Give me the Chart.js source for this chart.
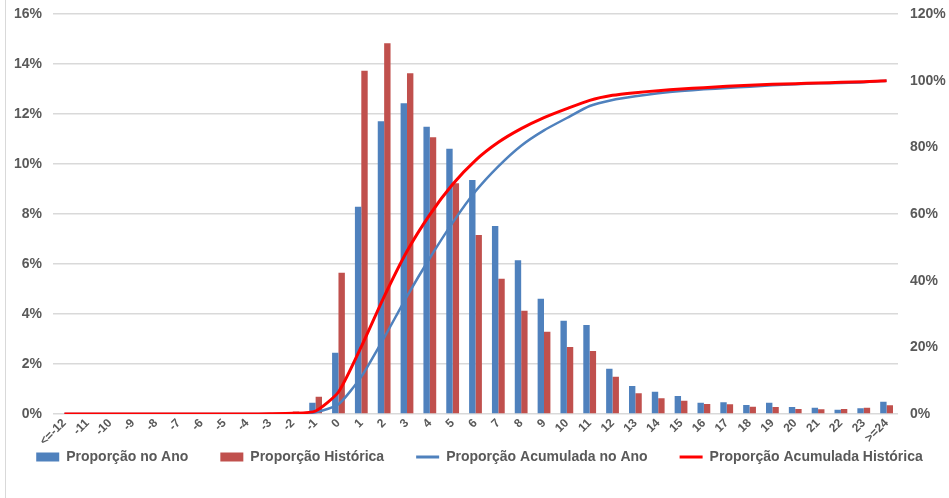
<!DOCTYPE html>
<html>
<head>
<meta charset="utf-8">
<script src="https://cdn.jsdelivr.net/npm/chart.js@4/dist/chart.umd.min.js"></script>
<style>
    body { margin: 0; background: #fff; }
    #wrap { position: relative; width: 949px; height: 498px; }
    #frame { position: absolute; left: 5px; top: 0; width: 1px; height: 498px; background: #d9d9d9; }
</style>
</head>
<body>
<div id="wrap">
    <div id="frame"></div>
    <canvas id="chart"></canvas>
</div>
<script>
const labels = ['<=-12', '-11', '-10', '-9', '-8', '-7', '-6', '-5', '-4', '-3', '-2', '-1', '0', '1', '2', '3', '4', '5', '6', '7', '8', '9', '10', '11', '12', '13', '14', '15', '16', '17', '18', '19', '20', '21', '22', '23', '>=24'];

// percent values
const propAno = [0, 0, 0, 0, 0, 0, 0, 0, 0, 0, 0.02, 0.45, 2.45, 8.29, 11.71, 12.43, 11.49, 10.61, 9.36, 7.52, 6.15, 4.61, 3.73, 3.56, 1.81, 1.12, 0.89, 0.72, 0.45, 0.47, 0.36, 0.45, 0.28, 0.25, 0.17, 0.23, 0.49];
const propHist = [0, 0, 0, 0, 0, 0, 0, 0, 0.01, 0.02, 0.1, 0.69, 5.65, 13.73, 14.83, 13.63, 11.07, 9.23, 7.16, 5.41, 4.13, 3.29, 2.68, 2.52, 1.49, 0.83, 0.63, 0.53, 0.4, 0.39, 0.29, 0.28, 0.2, 0.19, 0.2, 0.25, 0.35];
const acumAno = [0, 0, 0, 0, 0, 0, 0, 0, 0, 0, 0.05, 0.5, 2.9, 11.2, 22.9, 35.3, 46.8, 57.4, 66.8, 74.3, 80.5, 85.1, 88.8, 92.4, 94.2, 95.3, 96.2, 96.9, 97.4, 97.8, 98.2, 98.6, 98.9, 99.2, 99.3, 99.5, 100];
const acumHist = [0, 0, 0, 0, 0, 0, 0, 0, 0, 0.05, 0.2, 0.9, 6.6, 20.2, 35.2, 48.8, 59.8, 68.9, 76.1, 81.5, 85.6, 88.9, 91.6, 94.1, 95.6, 96.4, 97.0, 97.5, 97.9, 98.3, 98.6, 98.9, 99.1, 99.3, 99.5, 99.7, 100];

const leftTicks = [0, 2, 4, 6, 8, 10, 12, 14, 16];
const rightTicks = [0, 20, 40, 60, 80, 100, 120];

const fontFamily = '"Liberation Sans", Arial, sans-serif';
const tickFont = { family: fontFamily, size: 14, weight: 'bold' };

// pin the axis boxes so the plot area sits where the original one is
const fixBox = (size) => (scale) => {
    scale.paddingLeft = 0;
    scale.paddingRight = 0;
    scale.paddingTop = 0;
    scale.paddingBottom = 0;
    if (scale.isHorizontal()) scale.height = size;
    else scale.width = size;
};

new Chart(document.getElementById('chart'), {
    data: {
        labels,
        datasets: [
            {
                type: 'bar',
                label: 'Proporção no Ano',
                data: propAno,
                backgroundColor: '#4F81BD',
                yAxisID: 'y',
                order: 2,
                barPercentage: 1,
                categoryPercentage: 0.56,
            },
            {
                type: 'bar',
                label: 'Proporção Histórica',
                data: propHist,
                backgroundColor: '#C0504D',
                yAxisID: 'y',
                order: 2,
                barPercentage: 1,
                categoryPercentage: 0.56,
            },
            {
                type: 'line',
                label: 'Proporção Acumulada no Ano',
                data: acumAno,
                borderColor: '#4F81BD',
                backgroundColor: '#4F81BD',
                borderWidth: 2.5,
                pointRadius: 0,
                tension: 0.2,
                yAxisID: 'y1',
                order: 1,
            },
            {
                type: 'line',
                label: 'Proporção Acumulada Histórica',
                data: acumHist,
                borderColor: '#FF0000',
                backgroundColor: '#FF0000',
                borderWidth: 3,
                pointRadius: 0,
                tension: 0.2,
                yAxisID: 'y1',
                order: 0,
            },
        ],
    },
    options: {
        responsive: true,
        maintainAspectRatio: false,
        animation: false,
        layout: { autoPadding: false, padding: { top: 14, left: 13, right: 3, bottom: 24 } },
        plugins: {
            tooltip: { enabled: false },
            legend: {
                position: 'bottom',
                labels: {
                    color: '#595959',
                    font: { family: fontFamily, size: 14, weight: 'bold' },
                    usePointStyle: true,
                    pointStyleWidth: 23,
                    boxHeight: 9,
                    padding: 4,
                    sort: (a, b) => a.datasetIndex - b.datasetIndex,
                    generateLabels: (chart) => {
                        const items = Chart.defaults.plugins.legend.labels.generateLabels(chart);
                        items.forEach((it) => {
                            const ds = chart.data.datasets[it.datasetIndex];
                            const isLine = ds.type === 'line';
                            it.pointStyle = isLine ? 'line' : 'rect';
                            it.lineWidth = isLine ? 3 : 0;
                            it.strokeStyle = isLine ? ds.borderColor : ds.backgroundColor;
                            it.fillStyle = ds.backgroundColor;
                            // widen the gap after each item, like the original legend
                            if (it.datasetIndex < 3) it.text = ds.label + '\u2003\u2003';
                        });
                        return items;
                    },
                },
            },
        },
        scales: {
            x: {
                afterFit: fixBox(32),
                grid: { display: false, drawTicks: false },
                border: { display: false },
                ticks: {
                    color: '#595959',
                    font: { family: fontFamily, size: 12, weight: 'bold' },
                    maxRotation: 45,
                    minRotation: 45,
                    autoSkip: false,
                    padding: 2,
                },
            },
            y: {
                position: 'left',
                min: 0,
                max: 16,
                afterFit: fixBox(40),
                afterBuildTicks: (axis) => { axis.ticks = leftTicks.map(v => ({ value: v })); },
                grid: { color: '#D9D9D9', lineWidth: 1.5, drawTicks: false },
                border: { display: false },
                ticks: {
                    color: '#595959',
                    font: tickFont,
                    padding: 11,
                    callback: (v) => v + '%',
                },
            },
            y1: {
                position: 'right',
                min: 0,
                max: 120,
                afterFit: fixBox(48),
                afterBuildTicks: (axis) => { axis.ticks = rightTicks.map(v => ({ value: v })); },
                grid: { display: false, drawTicks: false },
                border: { display: false },
                ticks: {
                    color: '#595959',
                    font: tickFont,
                    padding: 12,
                    callback: (v) => v + '%',
                },
            },
        },
    },
});
</script>
</body>
</html>
